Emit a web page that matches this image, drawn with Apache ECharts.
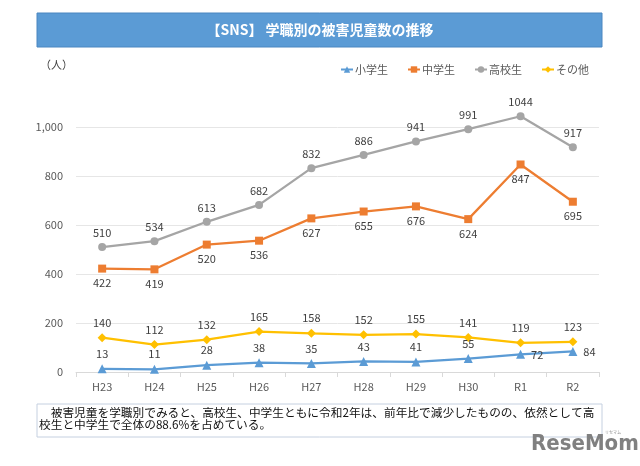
<!DOCTYPE html>
<html><head><meta charset="utf-8">
<script src="https://cdn.jsdelivr.net/npm/echarts@6/dist/echarts.min.js"></script>
<style>html,body{margin:0;padding:0;background:#fff}#c{width:640px;height:466px}</style>
</head><body><div id="c"></div>
<script>
var categories = ['H23','H24','H25','H26','H27','H28','H29','H30','R1','R2'];
var elementary = [13, 11, 28, 38, 35, 43, 41, 55, 72, 84];
var juniorHigh = [422, 419, 520, 536, 627, 655, 676, 624, 847, 695];
var highSchool = [510, 534, 613, 682, 832, 886, 941, 991, 1044, 917];
var others = [140, 112, 132, 165, 158, 152, 155, 141, 119, 123];
var seriesNames = ['小学生','中学生','高校生','その他'];
var yTicks = [0, 200, 400, 600, 800, 1000];

var FONT = '"Noto Sans CJK JP", "Noto Sans", sans-serif';
var chart = echarts.init(document.getElementById('c'), null, {renderer:'canvas'});

function lbl(pos) {
  return {show:true, position:pos, distance:5, color:'#404040', fontSize:11, fontFamily:FONT};
}
var elemData = elementary.map(function(v, i){
  if (i >= 8) return {value:v, label:{position:'right', distance:6}};
  return v;
});

chart.setOption({
  animation:false,
  textStyle:{fontFamily:FONT},
  grid:{left:76, right:41, top:127, bottom:94},
  legend:{
    left:335, top:59, itemWidth:12, itemHeight:8, itemGap:19,
    textStyle:{color:'#595959', fontSize:11, fontFamily:FONT, padding:[0,0,0,-3]},
    data:seriesNames
  },
  xAxis:{
    type:'category', data:categories, boundaryGap:true,
    axisLine:{lineStyle:{color:'#D9D9D9', width:1}},
    axisTick:{show:true, length:5, lineStyle:{color:'#D9D9D9'}},
    axisLabel:{color:'#595959', fontSize:11, margin:9, fontFamily:FONT}
  },
  yAxis:{
    type:'value', min:yTicks[0], max:yTicks[yTicks.length-1], interval:200,
    axisLine:{show:false}, axisTick:{show:false},
    splitLine:{lineStyle:{color:'#E6E6E6', width:1}},
    axisLabel:{color:'#595959', fontSize:11, margin:13, fontFamily:FONT,
      formatter:function(v){ return v.toLocaleString('en-US'); }}
  },
  series:[
    {name:seriesNames[0], type:'line', data:elemData, clip:false,
     symbol:'triangle', symbolSize:9, color:'#5B9BD5',
     lineStyle:{width:2.25, color:'#5B9BD5'}, itemStyle:{color:'#5B9BD5'},
     label:lbl('top')},
    {name:seriesNames[1], type:'line', data:juniorHigh, clip:false,
     symbol:'rect', symbolSize:8, color:'#ED7D31',
     lineStyle:{width:2.25, color:'#ED7D31'}, itemStyle:{color:'#ED7D31'},
     label:lbl('bottom')},
    {name:seriesNames[2], type:'line', data:highSchool, clip:false,
     symbol:'circle', symbolSize:8, color:'#A5A5A5',
     lineStyle:{width:2.25, color:'#A5A5A5'}, itemStyle:{color:'#A5A5A5'},
     label:lbl('top')},
    {name:seriesNames[3], type:'line', data:others, clip:false,
     symbol:'diamond', symbolSize:9, color:'#FFC000',
     lineStyle:{width:2.25, color:'#FFC000'}, itemStyle:{color:'#FFC000'},
     label:lbl('top')}
  ],
  graphic:[
    {type:'rect', shape:{x:37, y:13, width:565, height:34},
     style:{fill:'#5B9BD5', stroke:'#4A86C0', lineWidth:1}, z:1},
    {type:'text', x:320, y:30, z:2,
     style:{text:'【SNS】 学職別の被害児童数の推移', fill:'#FFFFFF', font:'bold 14px ' + FONT,
       textAlign:'center', textVerticalAlign:'middle'}},
    {type:'text', x:40, y:65,
     style:{text:'（人）', fill:'#404040', font:'11px ' + FONT, textAlign:'left', textVerticalAlign:'middle'}},
    {type:'rect', shape:{x:37, y:404, width:565, height:33},
     style:{fill:'#FFFFFF', stroke:'#C5D0E0', lineWidth:1}},
    {type:'text', x:39, y:407,
     style:{text:'　被害児童を学職別でみると、高校生、中学生ともに令和2年は、前年比で減少したものの、依然として高\n校生と中学生で全体の88.6%を占めている。',
       fill:'#111111', font:'11.7px ' + FONT, lineHeight:12, textAlign:'left', textVerticalAlign:'top'}},
    {type:'text', x:531, y:444,
     style:{text:'ReseMom.', fill:'#808080', font:'bold 22px "Liberation Sans Narrow", "DejaVu Sans Condensed", sans-serif',
       textAlign:'left', textVerticalAlign:'middle'}},
    {type:'text', x:613, y:432,
     style:{text:'リセマム', fill:'#909090', font:'4px ' + FONT, textAlign:'center', textVerticalAlign:'middle'}}
  ]
});
</script></body></html>
